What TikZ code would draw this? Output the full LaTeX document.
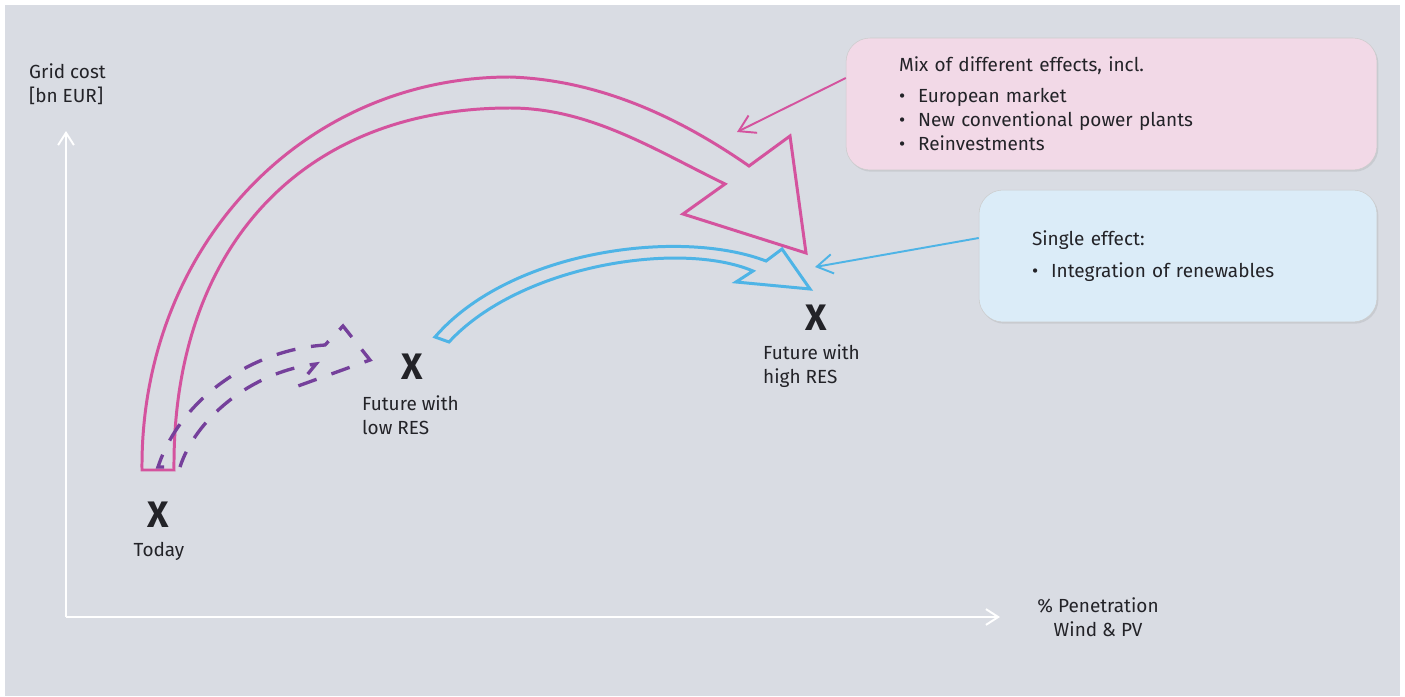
\documentclass[tikz,border=0pt]{standalone}
\usepackage{fontspec}
\setmainfont{Fira Sans}
\usetikzlibrary{arrows.meta,shadows}

\definecolor{bggrey}{RGB}{217,220,227}
\definecolor{pinkline}{RGB}{212,83,158}
\definecolor{blueline}{RGB}{78,180,230}
\definecolor{purpleline}{RGB}{117,64,155}
\definecolor{pinkfill}{RGB}{242,217,231}
\definecolor{bluefill}{RGB}{219,236,248}
\definecolor{textgrey}{RGB}{35,35,40}

\newcommand{\bul}[1]{\makebox[0.38cm][l]{\textbullet}#1}

\begin{document}
\begin{tikzpicture}[x=0.02cm, y=-0.02cm, text=textgrey,
		font=\fontsize{10.8}{13.6}\selectfont,
		axis_style/.style={draw=white, line width=1.1pt, -{Straight Barb[length=7pt,width=9pt]}},
		leader_style/.style={line width=1.1pt, -{Straight Barb[length=9pt,width=11pt]}},
		x_style/.style={font=\fontsize{21}{21}\selectfont\bfseries},
		box_style/.style={rounded corners=0.48cm, draw=black!20, line width=0.3pt,
			inner xsep=1.06cm, align=left, minimum height=2.64cm,
			drop shadow={opacity=0.18, shadow xshift=0.8pt, shadow yshift=-1pt}},
		big_arrow/.style={line width=1.7pt, line join=miter},
		dash_arrow/.style={line width=1.9pt, purpleline, dash pattern=on 11pt off 9pt, dash phase=11pt}]

		% background
		\fill[white] (0,0) rectangle (1405,696);
		\fill[bggrey] (5,5) rectangle (1400,696);

		% axes
		\coordinate (origin) at (66,617);
		\coordinate (ytop) at (66,131);
		\coordinate (xend) at (1000,617);
		\draw[axis_style] (origin) -- (ytop);
		\draw[axis_style] (origin) -- (xend);
		\node[anchor=west, align=left] (ylabel) at (23,84.5) {Grid cost\\{}[bn EUR]};
		\node[align=center] (xlabel) at (1098,617) {\% Penetration\\Wind \& PV};

		% points
		\node[x_style] (today) at (158,515) {X};
		\node (todaylabel) at (159,551) {Today};
		\node[x_style] (lowres) at (412,367) {X};
		\node[anchor=west, align=left] (lowlabel) at (356,415) {Future with\\low RES};
		\node[x_style] (highres) at (816,318) {X};
		\node[anchor=west, align=left] (highlabel) at (757,366.5) {Future with\\high RES};

		% big arrows
		\draw[big_arrow, pinkline] (174,470) -- (142,470)
			.. controls (140,250) and (300,77) .. (510,77)
			.. controls (600,80) and (680,118) .. (749,166)
			-- (790,136) -- (806,253) -- (683,214) -- (725,184)
			.. controls (655,150) and (590,108) .. (510,108)
			.. controls (300,108) and (172,250) .. (174,470) -- cycle;
		\draw[big_arrow, blueline] (449,342) -- (435,337)
			.. controls (510,250) and (680,228) .. (766,261)
			-- (782,249) -- (810,289) -- (736,282) -- (753,271)
			.. controls (680,240) and (520,265) .. (449,342) -- cycle;
		\draw[dash_arrow] (180,467) -- (158,467)
			.. controls (180,400) and (250,350) .. (325,345)
			-- (343,326) -- (370,360) -- (298,386) -- (316,364)
			.. controls (250,372) and (195,420) .. (180,467) -- cycle;

		% boxes
		\node[box_style, fill=pinkfill, minimum width=10.62cm, text width=8.5cm] (mix) at (1111.5,104)
			{Mix of different effects, incl.\\[4pt]
			\bul{European market}\\
			\bul{New conventional power plants}\\
			\bul{Reinvestments}};
		\node[box_style, fill=bluefill, minimum width=7.96cm, text width=5.84cm] (single) at (1178,256)
			{Single effect:\\[5pt]
			\bul{Integration of renewables}};

		% leaders
		\coordinate (mixtip) at (737,132);
		\coordinate (singletip) at (815,267);
		\draw[leader_style, pinkline] (mix.west |- 0,78) -- (mixtip);
		\draw[leader_style, blueline] (single.west |- 0,238) -- (singletip);

\end{tikzpicture}
\end{document}
